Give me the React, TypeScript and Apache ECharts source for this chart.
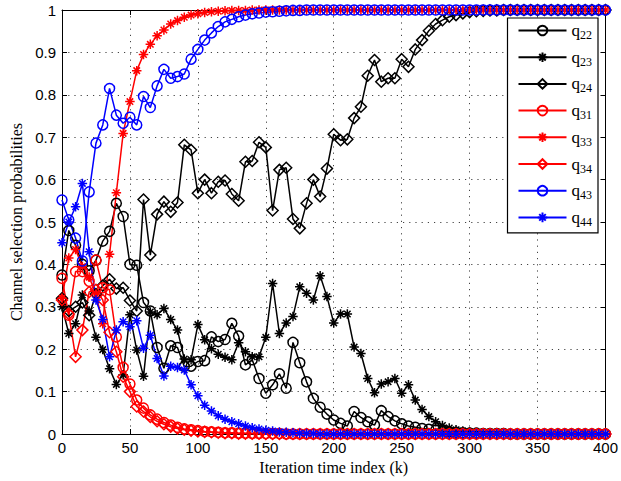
import React, { useEffect, useRef } from 'react';
import * as echarts from 'echarts';

// Iteration index grid (k = 0, 5, ..., 400)
const iterations: number[] = Array.from({ length: 81 }, (_, i) => i * 5);

const xTicks = [0, 50, 100, 150, 200, 250, 300, 350, 400];
const yTicks = [0, 0.1, 0.2, 0.3, 0.4, 0.5, 0.6, 0.7, 0.8, 0.9, 1];

const q22 = [
  0.375, 0.48, 0.445, 0.40, 0.385, 0.41, 0.455, 0.478, 0.544, 0.513,
  0.40, 0.398, 0.31, 0.29, 0.204, 0.155, 0.208, 0.204, 0.159, 0.16,
  0.171, 0.173, 0.229, 0.218, 0.223, 0.261, 0.231, 0.163, 0.175, 0.131,
  0.096, 0.116, 0.142, 0.108, 0.216, 0.168, 0.123, 0.084, 0.063, 0.047,
  0.033, 0.025, 0.019, 0.053, 0.039, 0.029, 0.021, 0.055, 0.041, 0.031,
  0.024, 0.019, 0.016, 0.013, 0.011, 0.009, 0.007, 0.005, 0.004, 0.003,
  0.002, 0.002, 0.001, 0.001, 0.001, 0.001, 0, 0, 0, 0,
  0, 0, 0, 0, 0, 0, 0, 0, 0, 0,
  0,
];
const q23 = [
  0.30, 0.237, 0.26, 0.328, 0.29, 0.228, 0.199, 0.154, 0.117, 0.14,
  0.281, 0.198, 0.136, 0.288, 0.281, 0.296, 0.27, 0.245, 0.177, 0.175,
  0.258, 0.222, 0.201, 0.188, 0.181, 0.175, 0.215, 0.194, 0.182, 0.182,
  0.228, 0.355, 0.237, 0.262, 0.277, 0.347, 0.332, 0.316, 0.373, 0.324,
  0.262, 0.283, 0.283, 0.205, 0.19, 0.131, 0.097, 0.118, 0.123, 0.131,
  0.096, 0.116, 0.08, 0.058, 0.041, 0.029, 0.02, 0.014, 0.01, 0.007,
  0.005, 0.003, 0.002, 0.002, 0.001, 0.001, 0, 0, 0, 0,
  0, 0, 0, 0, 0, 0, 0, 0, 0, 0,
  0,
];
const q24 = [
  0.32, 0.29, 0.30, 0.31, 0.28, 0.33, 0.35, 0.365, 0.343, 0.345,
  0.315, 0.29, 0.553, 0.422, 0.518, 0.548, 0.524, 0.546, 0.682, 0.67,
  0.568, 0.6, 0.568, 0.595, 0.598, 0.566, 0.55, 0.642, 0.644, 0.688,
  0.676, 0.527, 0.623, 0.628, 0.507, 0.485, 0.544, 0.6, 0.56, 0.626,
  0.707, 0.693, 0.695, 0.745, 0.772, 0.845, 0.882, 0.831, 0.839, 0.839,
  0.884, 0.866, 0.907, 0.929, 0.951, 0.967, 0.976, 0.984, 0.988, 0.992,
  0.995, 0.997, 0.998, 0.999, 0.999, 1, 1, 1, 1, 1,
  1, 1, 1, 1, 1, 1, 1, 1, 1, 1,
  1,
];
const q31 = [
  0.367, 0.28, 0.383, 0.383, 0.36, 0.41, 0.345, 0.34, 0.229, 0.157,
  0.118, 0.08, 0.061, 0.045, 0.035, 0.027, 0.021, 0.016, 0.012, 0.01,
  0.008, 0.006, 0.005, 0.004, 0.003, 0.003, 0.002, 0.002, 0.001, 0.001,
  0.001, 0.001, 0.001, 0, 0, 0, 0, 0, 0, 0,
  0, 0, 0, 0, 0, 0, 0, 0, 0, 0,
  0, 0, 0, 0, 0, 0, 0, 0, 0, 0,
  0, 0, 0, 0, 0, 0, 0, 0, 0, 0,
  0, 0, 0, 0, 0, 0, 0, 0, 0, 0,
  0,
];
const q33 = [
  0.32, 0.415, 0.435, 0.395, 0.37, 0.33, 0.26, 0.424, 0.569, 0.709,
  0.784, 0.857, 0.895, 0.919, 0.939, 0.953, 0.967, 0.975, 0.983, 0.988,
  0.991, 0.994, 0.996, 0.997, 0.998, 0.999, 0.999, 0.999, 1, 1,
  1, 1, 1, 1, 1, 1, 1, 1, 1, 1,
  1, 1, 1, 1, 1, 1, 1, 1, 1, 1,
  1, 1, 1, 1, 1, 1, 1, 1, 1, 1,
  1, 1, 1, 1, 1, 1, 1, 1, 1, 1,
  1, 1, 1, 1, 1, 1, 1, 1, 1, 1,
  1,
];
const q34 = [
  0.316, 0.283, 0.182, 0.245, 0.335, 0.34, 0.316, 0.24, 0.194, 0.135,
  0.1, 0.065, 0.053, 0.04, 0.03, 0.023, 0.017, 0.013, 0.01, 0.008,
  0.006, 0.005, 0.004, 0.003, 0.002, 0.002, 0.001, 0.001, 0.001, 0.001,
  0, 0, 0, 0, 0, 0, 0, 0, 0, 0,
  0, 0, 0, 0, 0, 0, 0, 0, 0, 0,
  0, 0, 0, 0, 0, 0, 0, 0, 0, 0,
  0, 0, 0, 0, 0, 0, 0, 0, 0, 0,
  0, 0, 0, 0, 0, 0, 0, 0, 0, 0,
  0,
];
const q43 = [
  0.552, 0.505, 0.462, 0.408, 0.571, 0.686, 0.729, 0.815, 0.752, 0.733,
  0.747, 0.729, 0.796, 0.77, 0.821, 0.86, 0.839, 0.843, 0.849, 0.884,
  0.907, 0.929, 0.946, 0.961, 0.972, 0.978, 0.984, 0.988, 0.991, 0.993,
  0.995, 0.996, 0.997, 0.998, 0.999, 0.999, 1, 1, 1, 1,
  1, 1, 1, 1, 1, 1, 1, 1, 1, 1,
  1, 1, 1, 1, 1, 1, 1, 1, 1, 1,
  1, 1, 1, 1, 1, 1, 1, 1, 1, 1,
  1, 1, 1, 1, 1, 1, 1, 1, 1, 1,
  1,
];
const q44 = [
  0.451, 0.5, 0.536, 0.591, 0.43, 0.316, 0.27, 0.182, 0.245, 0.265,
  0.253, 0.267, 0.202, 0.233, 0.178, 0.137, 0.16, 0.157, 0.151, 0.116,
  0.09, 0.068, 0.054, 0.043, 0.035, 0.029, 0.024, 0.019, 0.015, 0.012,
  0.009, 0.007, 0.005, 0.004, 0.003, 0.002, 0.001, 0.001, 0, 0,
  0, 0, 0, 0, 0, 0, 0, 0, 0, 0,
  0, 0, 0, 0, 0, 0, 0, 0, 0, 0,
  0, 0, 0, 0, 0, 0, 0, 0, 0, 0,
  0, 0, 0, 0, 0, 0, 0, 0, 0, 0,
  0,
];

const seriesNames = ['q22', 'q23', 'q24', 'q31', 'q33', 'q34', 'q43', 'q44'];
const seriesValues = [q22, q23, q24, q31, q33, q34, q43, q44];
const seriesColors = ['#000000', '#000000', '#000000', '#ff0000', '#ff0000', '#ff0000', '#0000ff', '#0000ff'];
const seriesMarkers = ['circle', 'star', 'diamond', 'circle', 'star', 'diamond', 'circle', 'star'];

const STAR_PATH = 'path://M5,0L5,10M0,5L10,5M1.6,1.6L8.4,8.4M1.6,8.4L8.4,1.6';
const SERIF = '"Liberation Serif", "Times New Roman", serif';
const SANS = '"Liberation Sans", Arial, Helvetica, sans-serif';

function markerSymbol(m: string): string {
  if (m === 'star') return STAR_PATH;
  return m;
}
function markerSize(m: string): number {
  if (m === 'circle') return 10;
  if (m === 'diamond') return 11;
  return 9.5;
}

export default function App() {
  const ref = useRef<HTMLDivElement>(null);

  useEffect(() => {
    if (!ref.current) return;
    const chart = echarts.init(ref.current, undefined, { renderer: 'svg' });

    const series = seriesNames.map((name, si) => ({
      name,
      type: 'line',
      data: iterations.map((x, i) => [x, seriesValues[si][i]]),
      symbol: markerSymbol(seriesMarkers[si]),
      symbolSize: markerSize(seriesMarkers[si]),
      showSymbol: true,
      showAllSymbol: true,
      clip: false,
      lineStyle: { color: seriesColors[si], width: 1.5 },
      itemStyle: { color: 'none', borderColor: seriesColors[si], borderWidth: 1.5 },
      emphasis: { disabled: true },
      xAxisIndex: 0,
      yAxisIndex: 0,
    }));

    const axisLineStyle = { color: '#000', width: 1 };
    const option: any = {
      animation: false,
      backgroundColor: '#fff',
      grid: { left: 58, right: 13, top: 10, bottom: 47, containLabel: false },
      legend: {
        orient: 'vertical',
        right: 23,
        top: 18,
        data: seriesNames,
        backgroundColor: '#fff',
        borderColor: '#000',
        borderWidth: 1.2,
        padding: [4, 6, 5, 10],
        itemWidth: 48,
        itemHeight: 12,
        itemGap: 7.7,
        selectedMode: false,
        formatter: (n: string) => `{q|q}{s|${n.slice(1)}}`,
        textStyle: {
          color: '#000',
          rich: {
            q: { fontFamily: SERIF, fontSize: 17, lineHeight: 21, color: '#000', verticalAlign: 'middle' },
            s: { fontFamily: SERIF, fontSize: 12, color: '#000', verticalAlign: 'bottom' },
          },
        },
      },
      xAxis: [
        {
          type: 'value',
          min: xTicks[0],
          max: xTicks[xTicks.length - 1],
          interval: xTicks[1] - xTicks[0],
          position: 'bottom',
          name: 'Iteration time index (k)',
          nameLocation: 'middle',
          nameGap: 24,
          nameTextStyle: { fontFamily: SERIF, fontSize: 16, color: '#000' },
          axisLine: { show: true, onZero: false, lineStyle: axisLineStyle },
          axisTick: { show: true, inside: true, length: 5, lineStyle: axisLineStyle },
          axisLabel: { fontFamily: SANS, fontSize: 15, color: '#000', margin: 6 },
          splitLine: { show: true, lineStyle: { color: '#444', width: 1, type: [1.2, 5] } },
        },
        {
          type: 'value',
          min: xTicks[0],
          max: xTicks[xTicks.length - 1],
          interval: xTicks[1] - xTicks[0],
          position: 'top',
          axisLine: { show: true, onZero: false, lineStyle: axisLineStyle },
          axisTick: { show: true, inside: true, length: 5, lineStyle: axisLineStyle },
          axisLabel: { show: false },
          splitLine: { show: false },
        },
      ],
      yAxis: [
        {
          type: 'value',
          min: yTicks[0],
          max: yTicks[yTicks.length - 1],
          interval: 0.1,
          position: 'left',
          name: 'Channel selection probabilities',
          nameLocation: 'middle',
          nameGap: 38,
          nameTextStyle: { fontFamily: SERIF, fontSize: 16, color: '#000' },
          axisLine: { show: true, onZero: false, lineStyle: axisLineStyle },
          axisTick: { show: true, inside: true, length: 5, lineStyle: axisLineStyle },
          axisLabel: { fontFamily: SANS, fontSize: 15, color: '#000', margin: 6 },
          splitLine: { show: true, lineStyle: { color: '#444', width: 1, type: [1.2, 5] } },
        },
        {
          type: 'value',
          min: yTicks[0],
          max: yTicks[yTicks.length - 1],
          interval: 0.1,
          position: 'right',
          axisLine: { show: true, onZero: false, lineStyle: axisLineStyle },
          axisTick: { show: true, inside: true, length: 5, lineStyle: axisLineStyle },
          axisLabel: { show: false },
          splitLine: { show: false },
        },
      ],
      series,
    };

    chart.setOption(option);
    return () => chart.dispose();
  }, []);

  return (
    <div
      ref={ref}
      style={{ position: 'fixed', left: 0, top: 0, width: 621, height: 481, background: '#fff' }}
    />
  );
}
